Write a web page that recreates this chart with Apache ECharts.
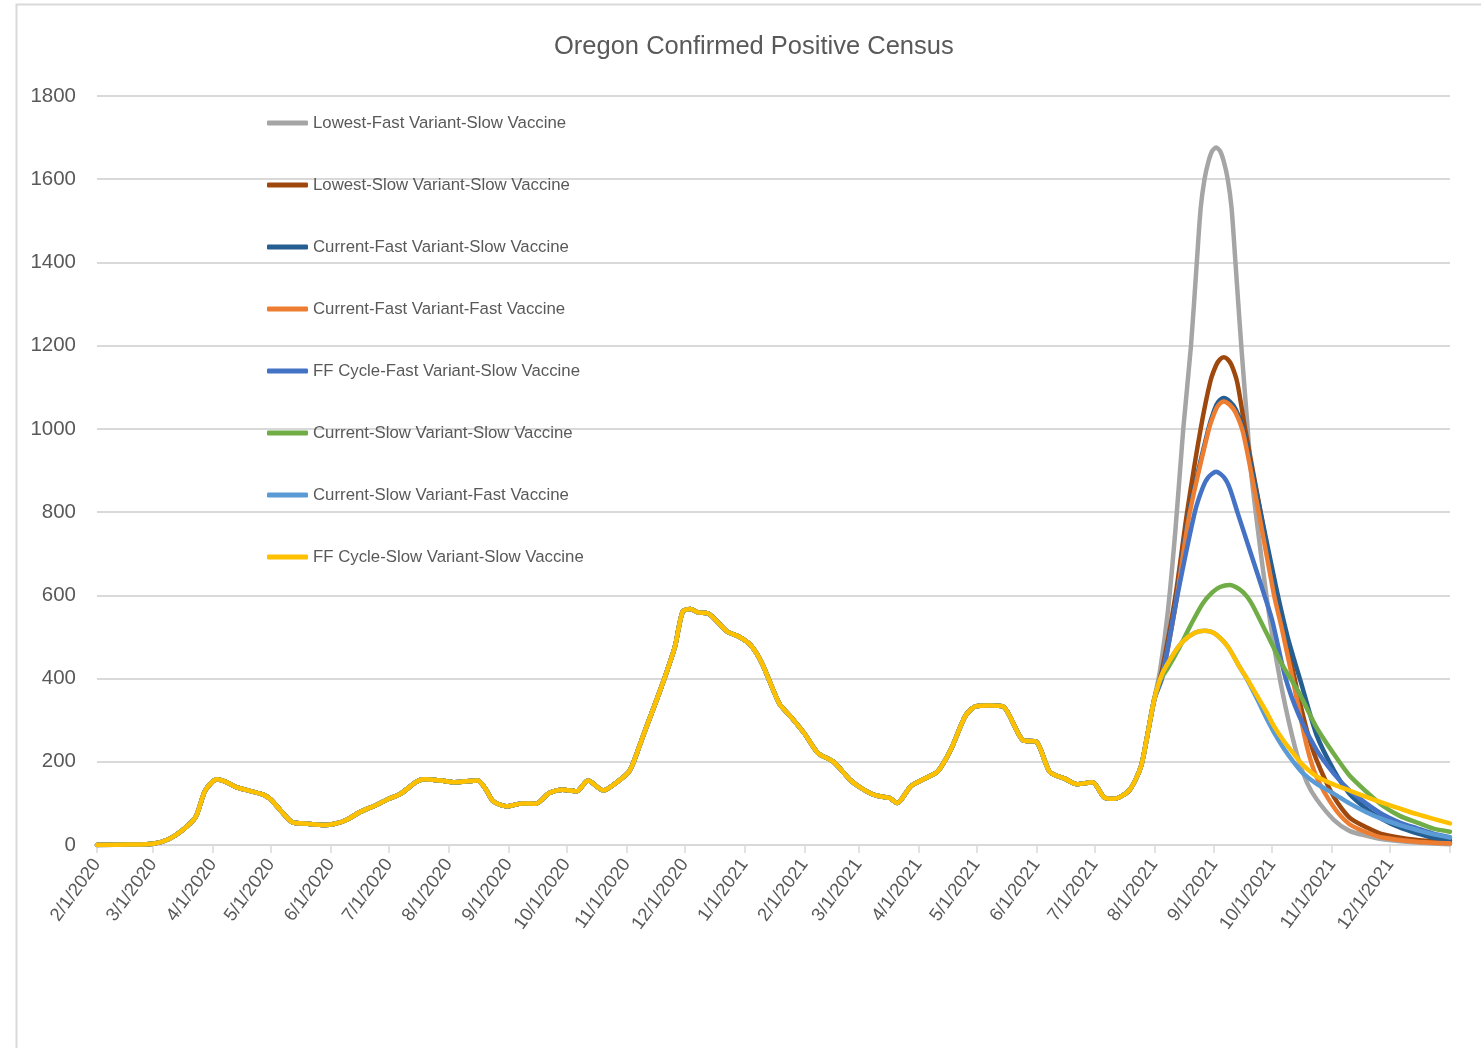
<!DOCTYPE html>
<html>
<head>
<meta charset="utf-8">
<script src="https://cdn.jsdelivr.net/npm/echarts@6/dist/echarts.min.js"></script>
<style>
html,body{margin:0;padding:0;background:#fff;}
#chart{width:1481px;height:1048px;}
</style>
</head>
<body>
<div id="chart"></div>
<script>
// ---- Data ----
const seriesNames = [
  'Lowest-Fast Variant-Slow Vaccine',
  'Lowest-Slow Variant-Slow Vaccine',
  'Current-Fast Variant-Slow Vaccine',
  'Current-Fast Variant-Fast Vaccine',
  'FF Cycle-Fast Variant-Slow Vaccine',
  'Current-Slow Variant-Slow Vaccine',
  'Current-Slow Variant-Fast Vaccine',
  'FF Cycle-Slow Variant-Slow Vaccine'
];
const seriesColors = ['#A5A5A5','#9E480E','#255E91','#ED7D31','#4472C4','#70AD47','#5B9BD5','#FFC000'];

const yTicks = [0, 200, 400, 600, 800, 1000, 1200, 1400, 1600, 1800];
const axisStart = '2/1/2020';
const axisEnd = '1/1/2022';

// Observed history shared by every scenario
const historyDates = ['2/1/2020','2/18/2020','3/1/2020','3/9/2020','3/16/2020','3/23/2020','3/28/2020','4/3/2020','4/8/2020','4/13/2020','4/20/2020','4/27/2020','5/1/2020','5/6/2020','5/12/2020','5/20/2020','5/29/2020','6/3/2020','6/9/2020','6/16/2020','6/24/2020','7/1/2020','7/7/2020','7/15/2020','7/19/2020','7/28/2020','8/4/2020','8/16/2020','8/20/2020','8/24/2020','8/31/2020','9/8/2020','9/15/2020','9/22/2020','9/29/2020','10/6/2020','10/12/2020','10/20/2020','10/27/2020','11/2/2020','11/5/2020','11/10/2020','11/19/2020','11/26/2020','11/30/2020','12/4/2020','12/8/2020','12/13/2020','12/17/2020','12/23/2020','12/29/2020','1/4/2021','1/10/2021','1/19/2021','1/25/2021','2/1/2021','2/8/2021','2/16/2021','2/25/2021','3/3/2021','3/10/2021','3/17/2021','3/21/2021','3/28/2021','4/4/2021','4/11/2021','4/18/2021','4/25/2021','4/30/2021','5/8/2021','5/15/2021','5/25/2021','6/1/2021','6/8/2021','6/16/2021','6/22/2021','6/30/2021','7/6/2021','7/11/2021','7/19/2021','7/25/2021','7/28/2021','8/1/2021'];
const historyValues = [0,1,3,14,35,67,131,158,151,139,130,121,109,83,55,51,48,51,60,79,95,111,123,151,158,155,151,155,135,105,93,100,99,125,133,129,155,131,151,175,204,268,380,477,561,567,559,557,541,513,501,481,437,340,308,268,221,200,155,135,119,113,101,141,159,177,232,308,332,335,332,252,248,175,159,146,151,115,111,131,187,253,350];

// Projections after 8/1/2021, one per scenario
const lowestFastSlowDates  = ['8/4/2021','8/8/2021','8/12/2021','8/16/2021','8/20/2021','8/23/2021','8/25/2021','8/27/2021','8/29/2021','8/31/2021','9/2/2021','9/4/2021','9/6/2021','9/8/2021','9/10/2021','9/12/2021','9/15/2021','9/18/2021','9/20/2021','9/23/2021','9/28/2021','10/3/2021','10/8/2021','10/14/2021','10/19/2021','10/24/2021','11/2/2021','11/10/2021','11/19/2021','11/27/2021','12/15/2021','1/1/2022'];
const lowestFastSlowValues = [420,560,760,1000,1200,1400,1530,1600,1642,1668,1676,1668,1642,1600,1530,1400,1200,1020,900,780,600,450,330,215,150,110,60,34,22,14,6,2];

const lowestSlowSlowDates  = ['8/5/2021','8/12/2021','8/18/2021','8/25/2021','8/30/2021','9/2/2021','9/4/2021','9/6/2021','9/8/2021','9/10/2021','9/13/2021','9/17/2021','9/25/2021','10/3/2021','10/8/2021','10/14/2021','10/19/2021','10/24/2021','11/2/2021','11/10/2021','11/19/2021','11/27/2021','12/15/2021','1/1/2022'];
const lowestSlowSlowValues = [420,600,800,1000,1114,1153,1167,1172,1167,1153,1110,1000,800,600,500,370,275,204,115,66,42,26,12,6];

const currentFastSlowDates  = ['8/5/2021','8/12/2021','8/19/2021','8/29/2021','9/1/2021','9/3/2021','9/6/2021','9/9/2021','9/12/2021','9/16/2021','9/25/2021','10/3/2021','10/9/2021','10/16/2021','10/24/2021','11/2/2021','11/10/2021','11/19/2021','11/27/2021','12/6/2021','12/15/2021','12/23/2021','1/1/2022'];
const currentFastSlowValues = [410,580,800,1000,1045,1064,1074,1066,1048,1000,800,620,500,389,264,179,123,86,62,42,28,18,11];

const currentFastFastDates  = ['8/5/2021','8/12/2021','8/19/2021','8/29/2021','9/1/2021','9/3/2021','9/6/2021','9/9/2021','9/12/2021','9/16/2021','9/24/2021','10/2/2021','10/6/2021','10/12/2021','10/19/2021','10/24/2021','11/2/2021','11/10/2021','11/19/2021','11/27/2021','12/15/2021','1/1/2022'];
const currentFastFastValues = [405,575,790,995,1037,1056,1066,1058,1040,990,800,600,520,390,236,163,90,50,30,18,8,4];

const ffFastSlowDates  = ['8/5/2021','8/13/2021','8/22/2021','8/26/2021','8/29/2021','9/2/2021','9/6/2021','9/9/2021','9/13/2021','9/20/2021','9/27/2021','10/1/2021','10/8/2021','10/15/2021','10/24/2021','11/2/2021','11/10/2021','11/19/2021','11/27/2021','12/6/2021','12/15/2021','12/23/2021','1/1/2022'];
const ffFastSlowValues = [400,600,800,858,884,897,884,858,800,700,600,540,400,310,228,171,131,99,74,54,40,28,19];

const currentSlowSlowDates  = ['8/4/2021','8/8/2021','8/14/2021','8/20/2021','8/26/2021','8/31/2021','9/4/2021','9/9/2021','9/14/2021','9/18/2021','9/21/2021','9/28/2021','10/6/2021','10/15/2021','10/24/2021','11/2/2021','11/10/2021','11/19/2021','11/27/2021','12/6/2021','12/15/2021','12/23/2021','1/1/2022'];
const currentSlowSlowValues = [395,425,475,530,580,607,620,625,615,597,575,510,435,365,282,218,167,127,95,70,54,40,32];

const currentSlowFastDates  = ['8/5/2021','8/11/2021','8/16/2021','8/22/2021','8/27/2021','9/1/2021','9/8/2021','9/14/2021','9/18/2021','9/23/2021','9/28/2021','10/2/2021','10/7/2021','10/12/2021','10/17/2021','10/24/2021','11/2/2021','11/10/2021','11/19/2021','11/27/2021','12/6/2021','12/15/2021','12/23/2021','1/1/2022'];
const currentSlowFastValues = [410,459,490,510,515,509,477,429,398,353,305,270,232,200,172,147,123,100,78,62,48,36,26,18];

const ffSlowSlowDates  = ['8/5/2021','8/11/2021','8/16/2021','8/22/2021','8/27/2021','9/1/2021','9/8/2021','9/14/2021','9/18/2021','9/23/2021','9/28/2021','10/2/2021','10/7/2021','10/12/2021','10/17/2021','10/24/2021','11/2/2021','11/10/2021','11/19/2021','11/28/2021','12/7/2021','12/15/2021','12/24/2021','1/1/2022'];
const ffSlowSlowValues = [410,459,490,510,515,509,477,429,400,360,320,285,250,220,192,165,145,131,115,100,86,74,62,52];

const projections = [
  [lowestFastSlowDates, lowestFastSlowValues],
  [lowestSlowSlowDates, lowestSlowSlowValues],
  [currentFastSlowDates, currentFastSlowValues],
  [currentFastFastDates, currentFastFastValues],
  [ffFastSlowDates, ffFastSlowValues],
  [currentSlowSlowDates, currentSlowSlowValues],
  [currentSlowFastDates, currentSlowFastValues],
  [ffSlowSlowDates, ffSlowSlowValues]
];

// ---- Daily category axis (M/D/YYYY) ----
function fmt(d){ return (d.getUTCMonth()+1) + '/' + d.getUTCDate() + '/' + d.getUTCFullYear(); }
function parse(s){ const p = s.split('/'); return new Date(Date.UTC(+p[2], +p[0]-1, +p[1])); }
const categories = [];
for (let t = parse(axisStart).getTime(); t <= parse(axisEnd).getTime(); t += 86400000) {
  categories.push(fmt(new Date(t)));
}
const lastIdx = categories.length - 1;

function pairs(dates, vals){ return dates.map((d, i) => [d, vals[i]]); }
const historyPairs = pairs(historyDates, historyValues);

const FONT = "'Liberation Sans', Arial, sans-serif";
const TXT = '#595959';
const GRID = '#D9D9D9';

const series = seriesNames.map((name, i) => ({
  name: name,
  type: 'line',
  data: historyPairs.concat(pairs(projections[i][0], projections[i][1])),
  showSymbol: false,
  symbol: 'none',
  smooth: 0.25,
  lineStyle: { width: 4.5, color: seriesColors[i], cap: 'round', join: 'round' },
  itemStyle: { color: seriesColors[i] },
  z: 2 + i
}));

const chart = echarts.init(document.getElementById('chart'), null, { renderer: 'canvas' });
chart.setOption({
  animation: false,
  backgroundColor: '#ffffff',
  title: {
    text: 'Oregon Confirmed Positive Census',
    left: 549, top: 29,
    textStyle: { fontFamily: FONT, fontSize: 25.5, fontWeight: 'normal', color: TXT }
  },
  legend: {
    orient: 'vertical',
    left: 267, top: 112,
    padding: 0,
    icon: 'roundRect',
    itemWidth: 41, itemHeight: 5,
    itemGap: 40,
    data: seriesNames,
    textStyle: { fontFamily: FONT, fontSize: 16.8, color: TXT, lineHeight: 22 }
  },
  grid: { left: 97, right: 31, top: 96, bottom: 203, containLabel: false },
  xAxis: {
    type: 'category',
    data: categories,
    boundaryGap: false,
    axisLine: { show: true, lineStyle: { color: GRID, width: 2 } },
    axisTick: {
      show: true, length: 8, lineStyle: { color: GRID, width: 1.5 },
      interval: (idx, val) => idx === lastIdx || val.split('/')[1] === '1'
    },
    axisLabel: {
      interval: (idx, val) => idx !== lastIdx && val.split('/')[1] === '1',
      rotate: 54, margin: 16,
      fontFamily: FONT, fontSize: 18.5, color: TXT
    },
    splitLine: { show: false }
  },
  yAxis: {
    type: 'value',
    min: yTicks[0], max: yTicks[yTicks.length-1], interval: 200,
    axisLine: { show: false },
    axisTick: { show: false },
    axisLabel: { margin: 21, fontFamily: FONT, fontSize: 20.5, color: TXT, formatter: v => String(v) },
    splitLine: { lineStyle: { color: GRID, width: 2 } }
  },
  graphic: [{
    type: 'rect', silent: true, z: -1,
    shape: { x: 16.5, y: 4.5, width: 1500, height: 1100 },
    style: { fill: 'none', stroke: GRID, lineWidth: 2 }
  }],
  series: series
});
</script>
</body>
</html>
